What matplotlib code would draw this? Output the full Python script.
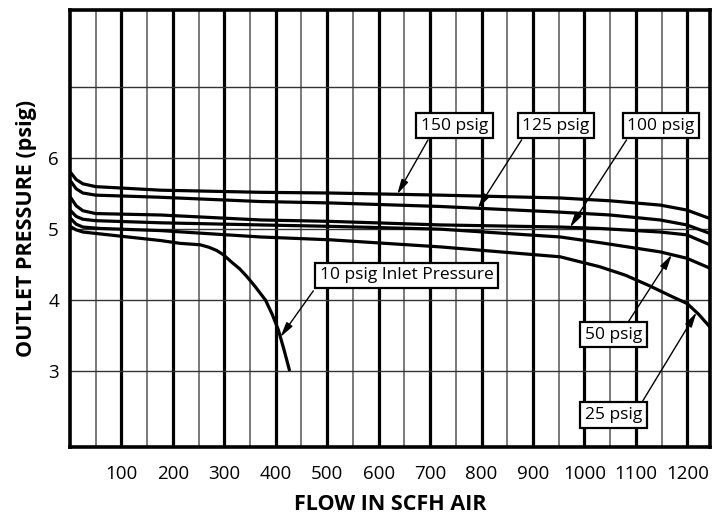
import matplotlib
matplotlib.use("Agg")
import matplotlib.pyplot as plt
import numpy as np

plt.rcParams['font.family'] = ['Open Sans', 'DejaVu Sans']

# flow (SCFH air) vs outlet pressure (psig)
x150 = [0, 12, 25, 50, 176, 370, 506, 720, 953, 1050, 1147, 1199, 1244]
y150 = [5.81, 5.70, 5.64, 5.60, 5.55, 5.52, 5.51, 5.48, 5.44, 5.40, 5.34, 5.27, 5.15]

x125 = [0, 12, 25, 50, 176, 370, 506, 720, 953, 1050, 1147, 1199, 1244]
y125 = [5.69, 5.57, 5.51, 5.48, 5.45, 5.39, 5.37, 5.32, 5.24, 5.20, 5.13, 5.06, 4.94]

x100 = [0, 12, 25, 50, 176, 370, 506, 720, 953, 1030, 1147, 1199, 1244]
y100 = [5.46, 5.33, 5.26, 5.22, 5.20, 5.13, 5.11, 5.06, 5.03, 5.01, 4.96, 4.92, 4.78]

x50 = [0, 12, 25, 50, 176, 370, 506, 720, 953, 1030, 1147, 1199, 1244]
y50 = [5.27, 5.18, 5.14, 5.12, 5.09, 5.06, 5.04, 5.00, 4.89, 4.81, 4.68, 4.59, 4.45]

x25 = [0, 12, 25, 59, 176, 370, 506, 720, 953, 1030, 1080, 1127, 1170, 1200, 1222, 1244]
y25 = [5.16, 5.07, 5.03, 5.01, 4.98, 4.89, 4.85, 4.75, 4.61, 4.47, 4.35, 4.20, 4.05, 3.95, 3.80, 3.62]

x10 = [0, 12, 25, 50, 100, 176, 214, 253, 270, 285, 298, 315, 330, 344, 360, 380, 393, 405, 416, 427]
y10 = [5.04, 4.99, 4.96, 4.94, 4.90, 4.84, 4.80, 4.78, 4.745, 4.70, 4.64, 4.53, 4.44, 4.33, 4.19, 4.00, 3.80, 3.58, 3.30, 3.00]

x_ticks = [100, 200, 300, 400, 500, 600, 700, 800, 900, 1000, 1100, 1200]
y_ticks = [3, 4, 5, 6, 7]
y_ticklabels = ['3', '4', '5', '6', '']

fig = plt.figure(figsize=(7.15, 5.24), dpi=100)
ax = fig.add_axes([0.0979, 0.147, 0.895, 0.834])

ax.set_xlim(0, 1244)
ax.set_ylim(1.928, 8.092)

ax.set_xticks(x_ticks)
ax.set_xticks(np.arange(50, 1200, 100), minor=True)
ax.set_yticks(y_ticks)
ax.set_yticklabels(y_ticklabels)
ax.tick_params(axis='both', which='both', length=0, labelsize=13.5)
ax.tick_params(axis='x', pad=13)
ax.tick_params(axis='y', pad=8)

ax.grid(which='major', axis='x', color='black', lw=2.3)
ax.grid(which='minor', axis='x', color='#7a7a7a', lw=1.4)
ax.grid(which='major', axis='y', color='#333333', lw=1.0)
ax.set_axisbelow(True)

for s in ax.spines.values():
    s.set_linewidth(2.6)

curves = [(x150, y150), (x125, y125), (x100, y100), (x50, y50), (x25, y25), (x10, y10)]
for cx, cy in curves:
    ax.plot(cx, cy, color='black', lw=2.3, solid_capstyle='butt', solid_joinstyle='round')

# labels: text, box centre, arrow start, arrow tip x, curve
notes = [
    ('150 psig', (747, 6.46), (696, 6.26), 636, (x150, y150)),
    ('125 psig', (945, 6.46), (878, 6.26), 793, (x125, y125)),
    ('100 psig', (1149, 6.46), (1082, 6.26), 972, (x100, y100)),
    ('10 psig Inlet Pressure', (654, 4.35), (473, 4.13), 409, (x10, y10)),
    ('50 psig', (1056, 3.51), (1085, 3.69), 1170, (x50, y50)),
    ('25 psig', (1056, 2.38), (1112, 2.56), 1218, (x25, y25)),
]
for txt, c, start, tx, (cx, cy) in notes:
    ax.text(c[0], c[1], txt, ha='center', va='center', fontsize=12.5,
            bbox=dict(boxstyle='square,pad=0.27', fc='white', ec='black', lw=1.6),
            zorder=5)
    ty = np.interp(tx, cx, cy)
    ax.annotate('', xy=(tx, ty), xytext=start,
                arrowprops=dict(arrowstyle='-|>,head_length=0.9,head_width=0.22',
                                color='black', lw=1.0, shrinkA=0, shrinkB=0),
                zorder=4)

ax.set_xlabel('FLOW IN SCFH AIR', fontsize=15.5, fontweight='bold', labelpad=8)
ax.set_ylabel('OUTLET PRESSURE (psig)', fontsize=15.5, fontweight='bold', labelpad=8)

fig.savefig('out.png', dpi=100)
